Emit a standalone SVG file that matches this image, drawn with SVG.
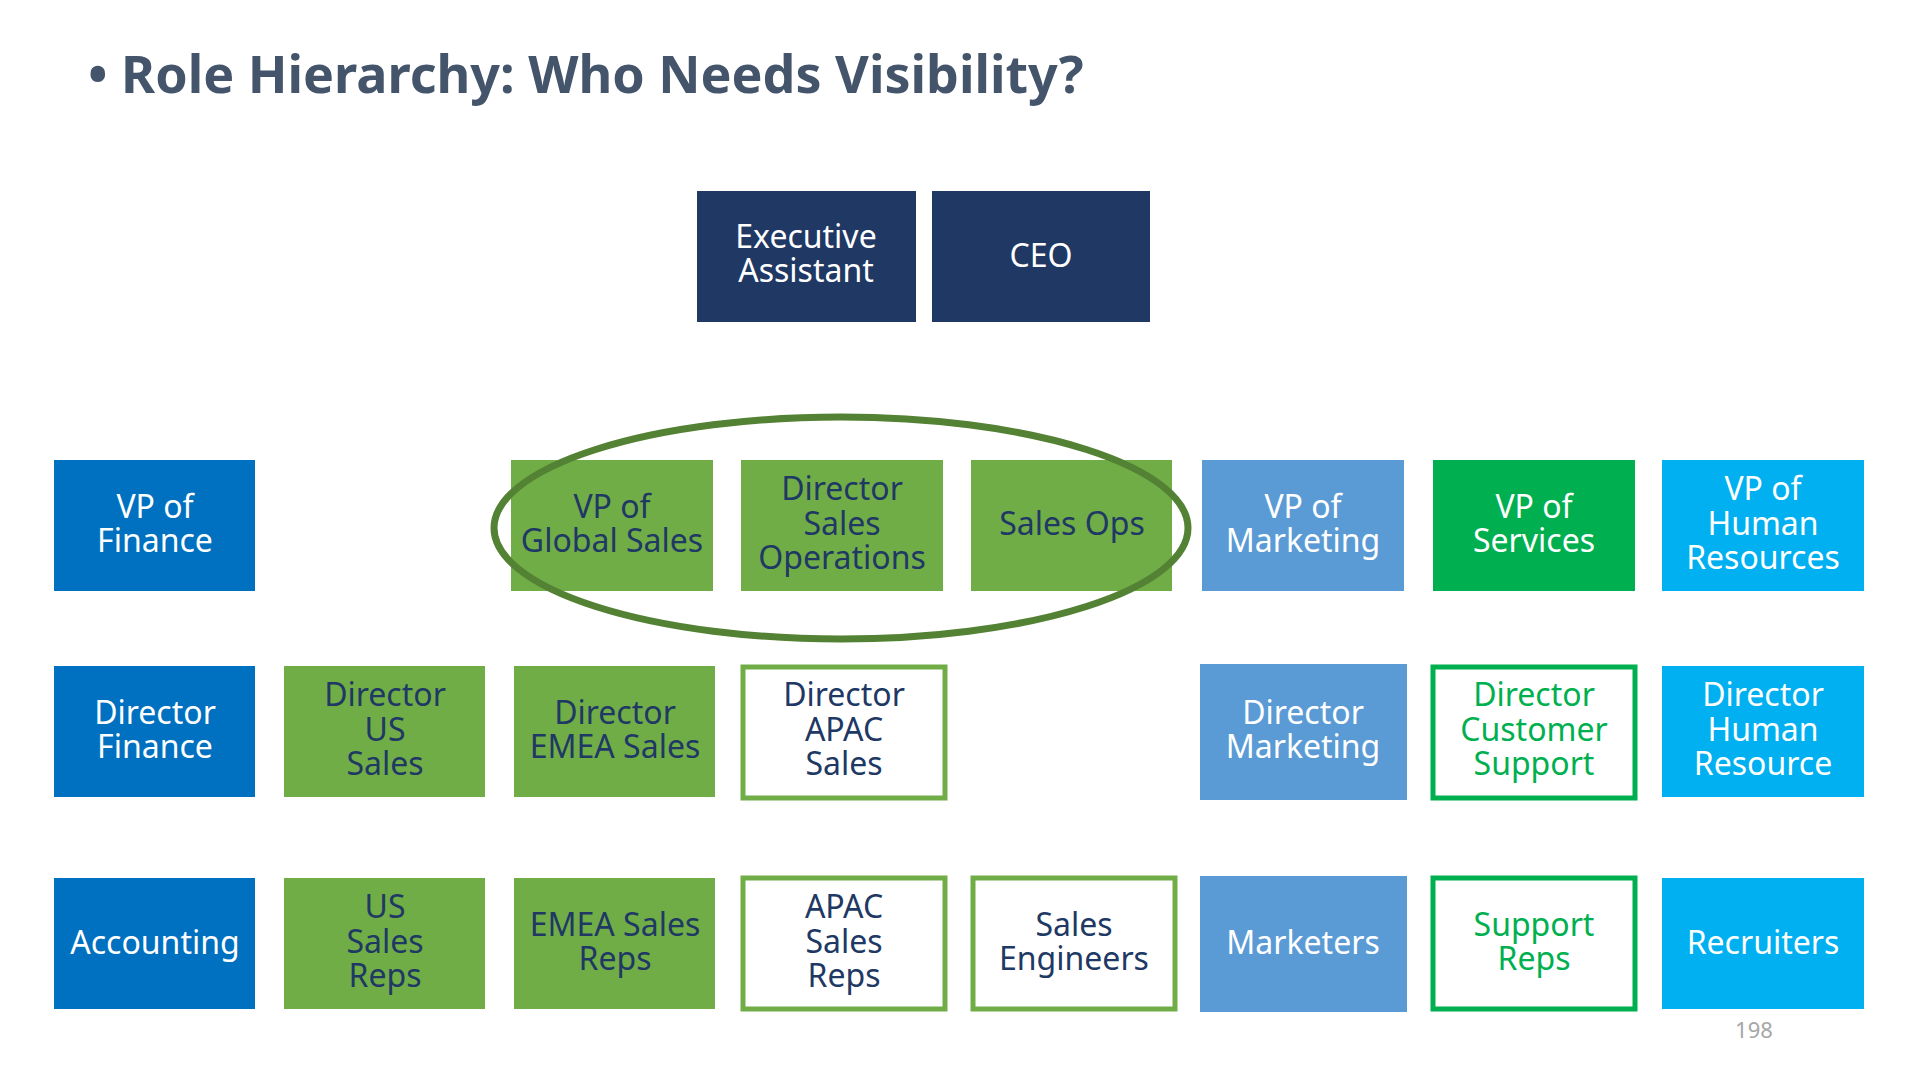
<svg xmlns="http://www.w3.org/2000/svg" width="1920" height="1080" viewBox="0 0 1920 1080">
<style>
text{font-family:"Noto Sans","Liberation Sans",sans-serif;font-size:32px;text-anchor:middle}
.w{fill:#fff}.n{fill:#203864}.g{fill:#00B050}
.navy{fill:#203864}.blue{fill:#0070C0}.grn{fill:#70AD47}.lb{fill:#5B9BD5}.bg{fill:#00B050}.cy{fill:#00B0F0}
.og{fill:#fff;stroke:#70AD47;stroke-width:5}.ob{fill:#fff;stroke:#00B050;stroke-width:5}
</style>
<rect width="1920" height="1080" fill="#fff"/>
<text x="88" y="93" style="font-size:52px;font-weight:bold;fill:#44546A;text-anchor:start">• Role Hierarchy: Who Needs Visibility?</text>
<g id="exec"><rect class="navy" x="697" y="191" width="219" height="131"/><text class="w" x="806" y="248">Executive</text><text class="w" x="806" y="282">Assistant</text></g>
<g id="ceo"><rect class="navy" x="932" y="191" width="218" height="131"/><text class="w" x="1041" y="267">CEO</text></g>
<g id="vpfin"><rect class="blue" x="54" y="460" width="201" height="131"/><text class="w" x="155" y="518">VP of</text><text class="w" x="155" y="552">Finance</text></g>
<g id="vpgs"><rect class="grn" x="511" y="460" width="202" height="131"/><text class="n" x="612" y="518">VP of</text><text class="n" x="612" y="552">Global Sales</text></g>
<g id="dso"><rect class="grn" x="741" y="460" width="202" height="131"/><text class="n" x="842" y="500">Director</text><text class="n" x="842" y="535">Sales</text><text class="n" x="842" y="569">Operations</text></g>
<g id="so"><rect class="grn" x="971" y="460" width="201" height="131"/><text class="n" x="1072" y="535">Sales Ops</text></g>
<g id="vpm"><rect class="lb" x="1202" y="460" width="202" height="131"/><text class="w" x="1303" y="518">VP of</text><text class="w" x="1303" y="552">Marketing</text></g>
<g id="vps"><rect class="bg" x="1433" y="460" width="202" height="131"/><text class="w" x="1534" y="518">VP of</text><text class="w" x="1534" y="552">Services</text></g>
<g id="vphr"><rect class="cy" x="1662" y="460" width="202" height="131"/><text class="w" x="1763" y="500">VP of</text><text class="w" x="1763" y="535">Human</text><text class="w" x="1763" y="569">Resources</text></g>
<g id="dfin"><rect class="blue" x="54" y="666" width="201" height="131"/><text class="w" x="155" y="724">Director</text><text class="w" x="155" y="758">Finance</text></g>
<g id="dus"><rect class="grn" x="284" y="666" width="201" height="131"/><text class="n" x="385" y="706">Director</text><text class="n" x="385" y="741">US</text><text class="n" x="385" y="775">Sales</text></g>
<g id="demea"><rect class="grn" x="514" y="666" width="201" height="131"/><text class="n" x="615" y="724">Director</text><text class="n" x="615" y="758">EMEA Sales</text></g>
<g id="dapac"><rect class="og" x="743" y="667" width="202" height="131"/><text class="n" x="844" y="706">Director</text><text class="n" x="844" y="741">APAC</text><text class="n" x="844" y="775">Sales</text></g>
<g id="dmkt"><rect class="lb" x="1200" y="664" width="207" height="136"/><text class="w" x="1303" y="724">Director</text><text class="w" x="1303" y="758">Marketing</text></g>
<g id="dcs"><rect class="ob" x="1433" y="667" width="202" height="131"/><text class="g" x="1534" y="706">Director</text><text class="g" x="1534" y="741">Customer</text><text class="g" x="1534" y="775">Support</text></g>
<g id="dhr"><rect class="cy" x="1662" y="666" width="202" height="131"/><text class="w" x="1763" y="706">Director</text><text class="w" x="1763" y="741">Human</text><text class="w" x="1763" y="775">Resource</text></g>
<g id="acc"><rect class="blue" x="54" y="878" width="201" height="131"/><text class="w" x="155" y="954">Accounting</text></g>
<g id="usr"><rect class="grn" x="284" y="878" width="201" height="131"/><text class="n" x="385" y="918">US</text><text class="n" x="385" y="953">Sales</text><text class="n" x="385" y="987">Reps</text></g>
<g id="emear"><rect class="grn" x="514" y="878" width="201" height="131"/><text class="n" x="615" y="936">EMEA Sales</text><text class="n" x="615" y="970">Reps</text></g>
<g id="apacr"><rect class="og" x="743" y="878" width="202" height="131"/><text class="n" x="844" y="918">APAC</text><text class="n" x="844" y="953">Sales</text><text class="n" x="844" y="987">Reps</text></g>
<g id="se"><rect class="og" x="973" y="878" width="202" height="131"/><text class="n" x="1074" y="936">Sales</text><text class="n" x="1074" y="970">Engineers</text></g>
<g id="mkt"><rect class="lb" x="1200" y="876" width="207" height="136"/><text class="w" x="1303" y="954">Marketers</text></g>
<g id="sr"><rect class="ob" x="1433" y="878" width="202" height="131"/><text class="g" x="1534" y="936">Support</text><text class="g" x="1534" y="970">Reps</text></g>
<g id="rec"><rect class="cy" x="1662" y="878" width="202" height="131"/><text class="w" x="1763" y="954">Recruiters</text></g>
<g id="connectors"><ellipse cx="841" cy="528" rx="347" ry="111" fill="none" stroke="#548235" stroke-width="7"/></g>
<text x="1754" y="1038" style="font-size:22px;fill:#A6A6A6">198</text>
</svg>
